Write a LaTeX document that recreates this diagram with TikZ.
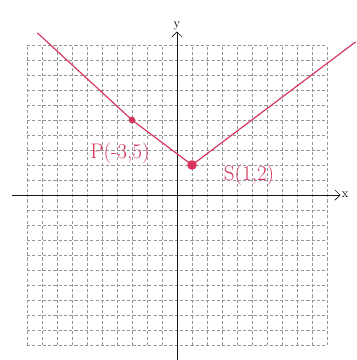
\documentclass[tikz,border=0pt]{standalone}
\usepackage{tikz}
\usetikzlibrary{arrows.meta,positioning}
\usepackage{amsmath}
\definecolor{penred}{RGB}{214,52,92}
\definecolor{gridgray}{RGB}{150,150,150}
\tikzset{
  axisline/.style={gray!20!black,line width=0.6pt,-{Straight Barb[length=5pt,width=10pt]}},
  penline/.style={penred,line width=1.1pt,line join=round,line cap=round},
  penlabel/.style={penred,font=\fontsize{20}{22}\selectfont}
}
\begin{document}
\begin{tikzpicture}[x=0.5cm,y=0.5cm]
        \useasboundingbox (-11.8,-11) rectangle (12,13);
        \fill[white] (-11.8,-11) rectangle (12,13);
        % Draw grid
        \draw[gridgray,line width=0.4pt,dash pattern=on 3pt off 2pt,xstep=0.5cm,ystep=0.5cm] (-10,-10) grid (10,10);
        % Axes
        \draw[axisline] (-11,0) -- (10.9,0) node[right,inner sep=1pt,black,font=\large] (xlab) {x};
        \draw[axisline] (0,-11) -- (0,10.9) node[above,inner sep=1pt,black,font=\large] (ylab) {y};
        % Points
        \coordinate (P) at (-3,5);
        \coordinate (S) at (1,2);
        % Curve
        \draw[penline,rounded corners=4pt] (-9.3,10.8) -- (P) -- (S) -- (11.9,10.2);
        \fill[penred] (P) circle (0.22);
        \fill[penred] (S) circle (0.32);
        \node[penlabel] (Plab) at (-3.8,2.8) {P(-3,5)};
        \node[penlabel] (Slab) at (4.8,1.3) {S(1,2)};
    \end{tikzpicture}
\end{document}
